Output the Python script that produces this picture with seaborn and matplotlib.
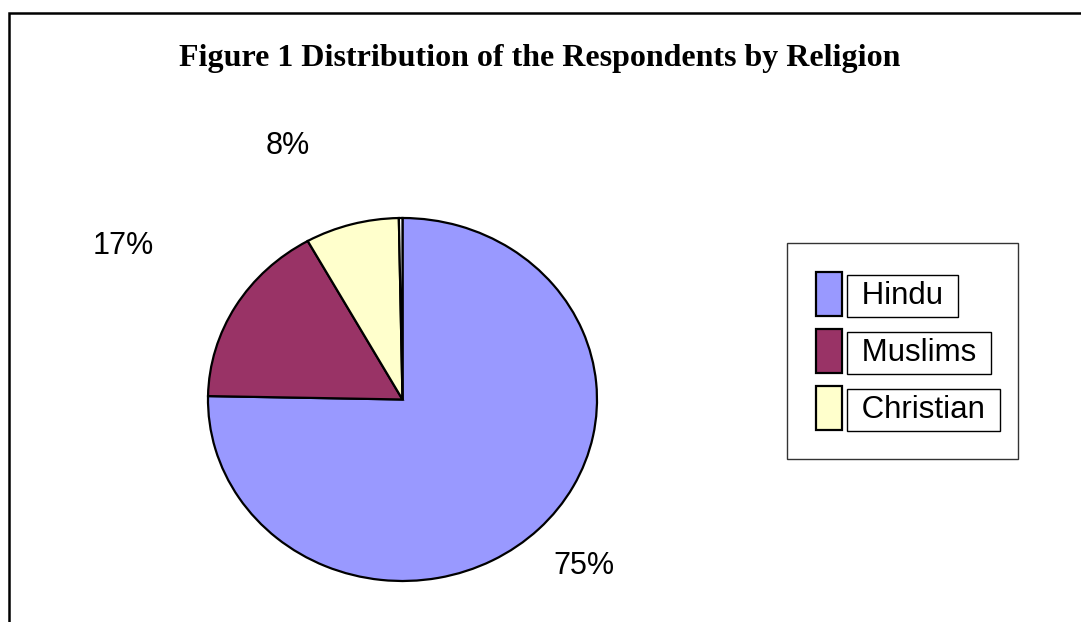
import matplotlib
matplotlib.use("Agg")
import matplotlib.pyplot as plt
import seaborn as sns
from matplotlib.patches import Rectangle

# ---- data ----
categories = ["Hindu", "Muslims", "Christian", "Other"]
values = [75.3, 16.6, 7.8, 0.3]
show_in_legend = [True, True, True, False]
title = "Figure 1 Distribution of the Respondents by Religion"

# ---- style ----
colors = ["#9999FF", "#993366", "#FFFFCC", "#FFFFFF"]
label_xy = [(0.931, -0.917), (-1.434, 0.846), (-0.591, 1.397), None]

sns.set_theme(style="white")
plt.rcParams["font.family"] = ["Liberation Sans", "DejaVu Sans"]
plt.rcParams["text.color"] = "black"

W, H = 1081, 622
fig = plt.figure(figsize=(W / 100, H / 100), dpi=100)
fig.patch.set_facecolor("white")

# outer chart frame (extends past right/bottom edges)
fig.add_artist(Rectangle((9 / W, -0.05), 1.2, 1 - 13 / H + 0.05,
                         transform=fig.transFigure, fill=False,
                         edgecolor="black", linewidth=1.8))

ax = fig.add_axes([208 / W, 1 - 581 / H, 389 / W, 363 / H])
wedges, _ = ax.pie(values, colors=colors, startangle=90, counterclock=False,
                   wedgeprops=dict(edgecolor="black", linewidth=1.6))
ax.set_aspect("auto")
ax.set_xlim(-1, 1)
ax.set_ylim(-1, 1)
ax.axis("off")

total = sum(values)
for v, xy in zip(values, label_xy):
    if xy is None:
        continue
    ax.text(xy[0], xy[1], f"{round(v / total * 100):.0f}%", ha="center",
            va="center", fontsize=22, color="black")

fig.text(540 / W, 1 - 66 / H, title, ha="center", va="baseline", color="black",
         fontsize=23, fontweight="bold", family=["Liberation Serif", "DejaVu Serif"])

handles = [w for w, s in zip(wedges, show_in_legend) if s]
labels = [f" {c} " for c, s in zip(categories, show_in_legend) if s]
leg = fig.legend(handles, labels, loc="upper left", mode="expand",
                 bbox_to_anchor=(787 / W, 1 - 460 / H, 231 / W, 217 / H),
                 bbox_transform=fig.transFigure,
                 fontsize=22.5, frameon=True, fancybox=False, shadow=False,
                 handlelength=0.82, handleheight=1.78, handletextpad=0.36,
                 labelspacing=0.42, borderpad=0.93, borderaxespad=0)
leg.get_frame().set_edgecolor("black")
leg.get_frame().set_linewidth(1.0)
for t in leg.get_texts():
    t.set_color("black")
    t.set_bbox(dict(boxstyle="square,pad=0.2", facecolor="white",
                    edgecolor="black", linewidth=1.0))

fig.savefig("out.png", dpi=100, facecolor="white")
